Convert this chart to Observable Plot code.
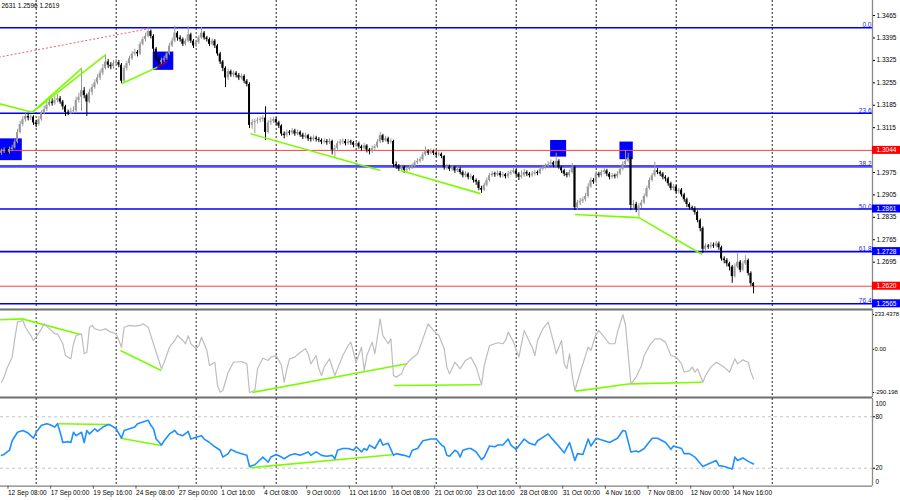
<!DOCTYPE html>
<html>
<head>
<meta charset="utf-8">
<script src="https://cdn.jsdelivr.net/npm/d3@7"></script>
<script src="https://cdn.jsdelivr.net/npm/@observablehq/plot@0.6"></script>
<style>
html,body{margin:0;padding:0;background:#fff;}
#chart{position:relative;width:900px;height:500px;overflow:hidden;background:#fff;}
</style>
</head>
<body>
<div id="chart"></div>
<script>
// ---------- price bars (H4), index 0 = first visible bar ----------
const firstOpen = 1.3035;
const closes = [
1.3040,1.3045,1.3038,1.3047,1.3052,1.3070,1.3100,1.3125,1.3140,1.3150,
1.3145,1.3148,1.3130,1.3125,1.3140,1.3160,1.3172,1.3185,1.3195,1.3190,
1.3200,1.3205,1.3195,1.3180,1.3162,1.3160,1.3165,1.3168,1.3200,1.3210,
1.3230,1.3215,1.3195,1.3225,1.3240,1.3255,1.3270,1.3285,1.3300,1.3320,
1.3310,1.3305,1.3315,1.3318,1.3310,1.3260,1.3300,1.3315,1.3330,1.3345,
1.3350,1.3345,1.3375,1.3390,1.3400,1.3415,1.3400,1.3360,1.3330,1.3318,
1.3325,1.3330,1.3345,1.3370,1.3385,1.3410,1.3395,1.3390,1.3375,1.3385,
1.3405,1.3385,1.3370,1.3380,1.3395,1.3410,1.3395,1.3390,1.3375,1.3385,
1.3370,1.3345,1.3320,1.3300,1.3270,1.3290,1.3280,1.3285,1.3278,1.3270,
1.3275,1.3260,1.3250,1.3122,1.3130,1.3135,1.3138,1.3140,1.3145,1.3100,
1.3130,1.3135,1.3140,1.3130,1.3120,1.3095,1.3090,1.3100,1.3098,1.3105,
1.3095,1.3100,1.3092,1.3085,1.3090,1.3080,1.3078,1.3082,1.3078,1.3075,
1.3070,1.3072,1.3068,1.3072,1.3045,1.3050,1.3065,1.3070,1.3072,1.3065,
1.3070,1.3068,1.3060,1.3065,1.3055,1.3050,1.3058,1.3045,1.3040,1.3050,
1.3055,1.3070,1.3090,1.3075,1.3080,1.3070,1.3072,1.3000,1.2995,1.2985,
1.2990,1.2982,1.2985,1.2990,1.2995,1.3005,1.3010,1.3015,1.3030,1.3040,
1.3035,1.3040,1.3035,1.3030,1.3032,1.3025,1.2990,1.2992,1.2985,1.2990,
1.2980,1.2985,1.2975,1.2965,1.2970,1.2960,1.2962,1.2950,1.2945,1.2925,
1.2920,1.2935,1.2950,1.2965,1.2970,1.2968,1.2972,1.2965,1.2968,1.2962,
1.2970,1.2975,1.2980,1.2970,1.2960,1.2965,1.2975,1.2970,1.2965,1.2970,
1.2975,1.2972,1.2985,1.2990,1.2995,1.3000,1.3005,1.2998,1.3010,1.2990,
1.2980,1.2970,1.2965,1.2975,1.2990,1.2865,1.2880,1.2885,1.2890,1.2900,
1.2930,1.2950,1.2945,1.2970,1.2965,1.2975,1.2980,1.2970,1.2960,1.2965,
1.2962,1.2970,1.2985,1.3000,1.3010,1.3020,1.2872,1.2875,1.2860,1.2870,
1.2880,1.2900,1.2925,1.2950,1.2965,1.2980,1.2975,1.2970,1.2960,1.2955,
1.2940,1.2925,1.2930,1.2915,1.2920,1.2905,1.2890,1.2875,1.2865,1.2862,
1.2850,1.2825,1.2800,1.2735,1.2745,1.2742,1.2748,1.2745,1.2752,1.2740,
1.2705,1.2700,1.2690,1.2680,1.2650,1.2680,1.2695,1.2670,1.2690,1.2700,
1.2660,1.2628,1.2619];
const highs = [
1.3048,1.3052,1.3050,1.3055,1.3060,1.3078,1.3110,1.3135,1.3150,1.3158,
1.3158,1.3155,1.3152,1.3138,1.3150,1.3168,1.3182,1.3195,1.3210,1.3205,
1.3212,1.3218,1.3212,1.3200,1.3185,1.3170,1.3175,1.3180,1.3210,1.3222,
1.3300,1.3240,1.3220,1.3235,1.3250,1.3265,1.3280,1.3295,1.3312,1.3342,
1.3328,1.3318,1.3325,1.3328,1.3325,1.3315,1.3308,1.3322,1.3338,1.3352,
1.3360,1.3356,1.3382,1.3398,1.3410,1.3426,1.3420,1.3405,1.3365,1.3335,
1.3332,1.3338,1.3352,1.3378,1.3395,1.3432,1.3415,1.3402,1.3395,1.3392,
1.3430,1.3410,1.3390,1.3388,1.3402,1.3428,1.3415,1.3400,1.3395,1.3392,
1.3390,1.3375,1.3350,1.3325,1.3305,1.3298,1.3295,1.3292,1.3290,1.3284,
1.3282,1.3280,1.3265,1.3255,1.3140,1.3142,1.3146,1.3148,1.3152,1.3180,
1.3138,1.3145,1.3148,1.3146,1.3135,1.3124,1.3102,1.3108,1.3106,1.3112,
1.3110,1.3108,1.3105,1.3098,1.3098,1.3094,1.3086,1.3090,1.3088,1.3084,
1.3080,1.3080,1.3078,1.3080,1.3076,1.3060,1.3072,1.3078,1.3080,1.3078,
1.3078,1.3076,1.3072,1.3072,1.3070,1.3060,1.3066,1.3062,1.3050,1.3058,
1.3062,1.3078,1.3100,1.3094,1.3088,1.3085,1.3080,1.3076,1.3008,1.3000,
1.2998,1.2995,1.2992,1.2998,1.3002,1.3012,1.3018,1.3022,1.3038,1.3055,
1.3046,1.3048,1.3045,1.3040,1.3040,1.3036,1.3028,1.3000,1.2998,1.2996,
1.2994,1.2992,1.2990,1.2980,1.2978,1.2974,1.2970,1.2966,1.2955,1.2950,
1.2932,1.2942,1.2958,1.2972,1.2978,1.2976,1.2980,1.2978,1.2975,1.2972,
1.2978,1.2982,1.2990,1.2985,1.2975,1.2980,1.2985,1.2980,1.2975,1.2978,
1.2982,1.2980,1.2992,1.2998,1.3002,1.3008,1.3014,1.3010,1.3035,1.3015,
1.2995,1.2985,1.2975,1.2982,1.3003,1.2995,1.2888,1.2894,1.2898,1.2910,
1.2940,1.2958,1.2956,1.2978,1.2976,1.2982,1.2988,1.2985,1.2975,1.2972,
1.2970,1.2978,1.2992,1.3008,1.3044,1.3035,1.3025,1.2888,1.2882,1.2878,
1.2888,1.2908,1.2932,1.2958,1.2972,1.3007,1.2988,1.2980,1.2975,1.2965,
1.2960,1.2945,1.2938,1.2935,1.2926,1.2925,1.2910,1.2895,1.2880,1.2870,
1.2868,1.2855,1.2830,1.2805,1.2752,1.2750,1.2756,1.2755,1.2760,1.2758,
1.2745,1.2712,1.2706,1.2695,1.2685,1.2690,1.2722,1.2700,1.2698,1.2715,
1.2705,1.2665,1.2631];
const lows = [
1.3028,1.3034,1.3030,1.3032,1.3040,1.3048,1.3065,1.3095,1.3118,1.3132,
1.3136,1.3138,1.3122,1.3115,1.3120,1.3135,1.3155,1.3165,1.3180,1.3182,
1.3185,1.3192,1.3188,1.3170,1.3150,1.3152,1.3155,1.3158,1.3160,1.3192,
1.3165,1.3205,1.3150,1.3190,1.3215,1.3235,1.3248,1.3262,1.3278,1.3295,
1.3300,1.3296,1.3298,1.3308,1.3302,1.3252,1.3255,1.3292,1.3308,1.3325,
1.3338,1.3336,1.3340,1.3370,1.3382,1.3395,1.3392,1.3350,1.3322,1.3310,
1.3312,1.3318,1.3325,1.3340,1.3365,1.3380,1.3385,1.3382,1.3368,1.3370,
1.3380,1.3378,1.3362,1.3365,1.3375,1.3390,1.3388,1.3382,1.3368,1.3370,
1.3362,1.3338,1.3312,1.3290,1.3240,1.3262,1.3272,1.3272,1.3270,1.3262,
1.3264,1.3252,1.3242,1.3112,1.3110,1.3097,1.3126,1.3130,1.3132,1.3075,
1.3095,1.3122,1.3128,1.3122,1.3112,1.3088,1.3080,1.3085,1.3090,1.3092,
1.3088,1.3090,1.3085,1.3078,1.3080,1.3072,1.3070,1.3072,1.3070,1.3068,
1.3062,1.3064,1.3060,1.3062,1.3030,1.3022,1.3045,1.3058,1.3062,1.3058,
1.3060,1.3060,1.3052,1.3054,1.3048,1.3042,1.3045,1.3036,1.3030,1.3034,
1.3044,1.3050,1.3065,1.3068,1.3070,1.3062,1.3064,1.2990,1.2985,1.2978,
1.2978,1.2972,1.2975,1.2980,1.2984,1.2990,1.3000,1.3004,1.3010,1.3025,
1.3028,1.3030,1.3028,1.3022,1.3024,1.3018,1.2982,1.2982,1.2978,1.2978,
1.2972,1.2974,1.2968,1.2958,1.2958,1.2952,1.2952,1.2942,1.2935,1.2918,
1.2910,1.2915,1.2930,1.2945,1.2960,1.2960,1.2962,1.2958,1.2958,1.2955,
1.2956,1.2965,1.2970,1.2962,1.2950,1.2955,1.2960,1.2962,1.2958,1.2960,
1.2964,1.2965,1.2968,1.2980,1.2985,1.2990,1.2995,1.2990,1.2992,1.2985,
1.2972,1.2962,1.2958,1.2960,1.2970,1.2856,1.2858,1.2872,1.2878,1.2884,
1.2895,1.2925,1.2938,1.2940,1.2958,1.2960,1.2968,1.2962,1.2952,1.2955,
1.2955,1.2956,1.2965,1.2980,1.2995,1.3005,1.2856,1.2862,1.2850,1.2835,
1.2862,1.2875,1.2895,1.2920,1.2945,1.2960,1.2968,1.2962,1.2952,1.2946,
1.2932,1.2918,1.2918,1.2908,1.2908,1.2898,1.2882,1.2866,1.2858,1.2855,
1.2842,1.2818,1.2790,1.2722,1.2728,1.2735,1.2736,1.2738,1.2740,1.2732,
1.2698,1.2690,1.2680,1.2668,1.2629,1.2645,1.2675,1.2662,1.2665,1.2685,
1.2652,1.2620,1.2596];

// ---------- time axis ----------
const timeTickIdx = [3,19,35,51,67,83,99,115,131,147,163,179,195,211,227,243,259,275];
const timeTickLabels = ["12 Sep 08:00","17 Sep 00:00","19 Sep 16:00","24 Sep 08:00","27 Sep 00:00","1 Oct 16:00","4 Oct 08:00","9 Oct 00:00","11 Oct 16:00","16 Oct 08:00","21 Oct 00:00","23 Oct 16:00","28 Oct 08:00","31 Oct 00:00","4 Nov 16:00","7 Nov 08:00","12 Nov 00:00","14 Nov 16:00"];
const weekGridIdx = [13,43,73,103,133,163,193,223,253,289];

// ---------- price levels ----------
const priceTicks = [1.3465,1.3395,1.3325,1.3255,1.3185,1.3115,1.2975,1.2905,1.2835,1.2765,1.2695];
const fibLabels = ["0.0","23.6","38.2","50.0","61.8","76.4"];
const fibPrices = [1.3427,1.3160,1.2994,1.2861,1.2728,1.2565];
const redLinePrices = [1.3044,1.2620];
const tagPrices = [1.3044,1.2861,1.2728,1.2620,1.2565];

// ---------- marked zones (bar index range, price range) ----------
const zoneStart = [-1,56.9,205.9,231.9];
const zoneEnd = [7.8,64.6,211.9,236.9];
const zoneTop = [1.3080,1.3351,1.3075,1.3070];
const zoneBottom = [1.3012,1.3294,1.3023,1.3015];

// ---------- divergence lines [i1, v1, i2, v2] ----------
const priceDivergences = [[-1,1.3190,11.5,1.3163],[11.5,1.3163,30,1.3299],[11.5,1.3163,39,1.3342],[45,1.3252,58.5,1.3304],[93.4,1.3096,142.1,1.2981],[149.6,1.2981,179.6,1.2909],[215,1.2844,239,1.2834],[239,1.2834,262.7,1.2719]];
const priceDivergenceRed = [[58.5,1.3304,62.3,1.3322]];
const dottedTrend = [[-1,1.3335,55.2,1.3424]];

// ---------- CCI ----------
const cciIdx = [0,1,2,4,5,6,8,9,11,12,13,15,16,18,20,21,23,24,25,26,27,28,30,31,32,33,34,35,37,39,41,43,45,46,48,50,52,53,55,56,58,60,61,63,65,66,68,69,70,71,73,74,75,76,77,78,80,81,82,83,85,87,90,92,93,95,96,98,100,101,103,105,106,107,108,110,112,114,115,116,118,119,120,121,123,125,126,128,130,131,132,133,135,136,137,139,140,142,143,145,146,147,148,150,151,153,156,158,160,162,164,166,167,168,170,172,174,176,178,180,181,183,186,188,189,190,192,194,196,198,199,200,201,203,205,206,207,208,210,211,212,213,214,215,217,220,221,223,224,226,228,230,231,233,234,236,238,240,241,243,245,247,249,251,253,255,256,258,259,260,261,263,264,266,268,270,271,273,275,276,278,280,281,282];
const cciVal = [-221,-187,-129,-53,72,182,193,148,92,59,81,137,171,137,104,104,37,-42,-53,-64,37,92,104,-30,-20,148,160,137,126,137,115,104,14,148,160,155,160,171,148,92,-20,-131,-87,14,59,92,59,37,92,37,3,25,81,37,-8,-109,-87,-243,-288,-277,-154,-87,-82,-98,-290.198,-277,-131,-60,-75,-53,-42,-109,-221,-131,-64,-53,-20,3,-30,-98,-42,-131,-176,-120,-64,-176,-131,-42,25,48,-20,-87,14,-143,-42,48,-30,205,92,37,70,-176,-187,-165,-120,-75,-30,70,171,126,92,3,-120,-165,-87,-131,-75,-53,-120,-239,-109,25,44,37,59,115,48,-53,126,48,14,-42,59,137,182,115,48,-30,59,-98,-131,-30,-176,-277,-154,14,-8,104,126,81,37,37,115,233.4378,160,-232,-187,-109,-42,25,70,70,48,-42,-53,-98,-154,-143,-120,-154,-131,-221,-176,-120,-87,-109,-120,-154,-64,-98,-71,-87,-154,-198];
const cciDivergences = [[-1,198,7.8,204],[7.8,204,29.6,99],[44.6,-8,59.9,-142],[94,-290,152.1,-97],[147.1,-243,179.6,-238],[215.2,-281,235.9,-232],[235.9,-232,262.7,-221]];
const cciTicks = [233.4378,0,-290.198];
const cciTickLabels = ["233.4378","0.00","-290.198"];

// ---------- oscillator 0..100 ----------
const stIdx = [0,1,3,4,6,8,10,12,13,15,17,18,20,21,22,23,25,26,27,28,30,31,32,33,35,36,38,40,41,43,45,46,48,50,51,53,55,56,57,58,60,61,63,65,66,68,70,71,73,75,76,78,80,82,83,85,86,88,90,92,93,95,96,98,100,101,103,105,106,108,110,112,115,116,118,120,122,124,125,126,128,130,132,133,135,136,137,138,140,142,143,145,147,148,151,153,154,156,158,161,163,165,166,167,168,170,171,172,173,175,176,178,180,181,183,185,186,188,190,191,193,196,198,200,201,203,205,206,208,211,213,215,216,218,220,221,223,226,228,231,233,234,236,238,239,241,242,244,246,249,251,252,255,256,258,260,263,265,268,269,271,274,275,276,278,280,282];
const stVal = [35,36,41,52,62,64,61,55,62,70,72,71,68,72,62,50,51,50,62,58,62,50,64,60,66,63,68,71,70,66,55,64,66,68,72,74,76,70,66,54,47,52,60,64,60,58,63,54,56,58,54,50,45,41,33,37,42,39,37,35,22,24,27,33,27,33,36,33,31,35,37,35,39,35,39,35,34,35,31,41,43,43,41,45,39,43,41,47,43,54,47,49,35,37,35,33,41,43,52,54,54,47,45,35,34,41,39,33,41,43,43,39,30,33,46,45,47,47,54,47,42,54,49,47,52,56,60,56,49,38,50,29,37,36,54,46,55,52,50,55,64,63,39,40,39,43,47,55,55,50,42,46,43,37,37,33,22,25,29,23,22,19,33,29,32,28,25];
const stDivergences = [[20.9,71.8,40.9,71],[44.6,55,59.9,46.5],[93.1,20.5,146.5,35.7]];
const stLevels = [80,20];

// ================= drawing =================
const root = document.getElementById("chart");
const FONT = "'Liberation Sans', Arial, sans-serif";
const X_MIN = -0.375, X_MAX = 326.6, TAG_W = 10.5;
const base = {
  width: 900, marginLeft: 0, marginRight: 28,
  style: {fontFamily: FONT, background: "transparent", overflow: "visible", color: "#000", fontSize: "6.5px"}
};
const xOpt = {domain: [X_MIN, X_MAX], axis: null};
const seg = a => ({x1: a[0], y1: a[1], x2: a[2], y2: a[3]});
const linkOpts = {x1: "x1", y1: "y1", x2: "x2", y2: "y2"};
const GREEN = "#7cfc00";
const gridMark = () => Plot.ruleX(weekGridIdx, {x: d => d, stroke: "#222", strokeDasharray: "2,2", strokeWidth: 1});
const axisLine = () => Plot.ruleX([X_MAX], {x: d => d, stroke: "#8a8a8a", strokeWidth: 1.3});
function place(el, top) {
  el.style.position = "absolute";
  el.style.left = "0px";
  el.style.top = top + "px";
  root.appendChild(el);
}

const bars = closes.map((c, i) => ({i, o: i ? closes[i - 1] : firstOpen, c, h: highs[i], l: lows[i]}));
const ups = bars.filter(d => d.c >= d.o);
const downs = bars.filter(d => d.c < d.o);
const bodyLo = d => Math.min(d.o, d.c);
const bodyHi = d => Math.max(Math.max(d.o, d.c), Math.min(d.o, d.c) + 0.0003);
const zones = zoneStart.map((s, k) => ({s, e: zoneEnd[k], t: zoneTop[k], b: zoneBottom[k]}));
const fibs = fibPrices.map((p, k) => ({p, name: fibLabels[k]}));
const tags = tagPrices.map(p => ({p, red: redLinePrices.includes(p)}));
const last = bars[bars.length - 1];
// the terminal header shows the last bar's values with its left part cut off by the window edge
const header = [[last.h.toFixed(4).slice(2), last.l.toFixed(4), last.c.toFixed(4)].join(" ")];

const P_MIN = 1.25504, P_MAX = 1.3512, TAG_H = 0.00125;
const mainPlot = Plot.plot({
  ...base, height: 309, marginTop: 0, marginBottom: 1,
  x: xOpt,
  y: {domain: [P_MIN, P_MAX]},
  marks: [
    Plot.rect(zones, {x1: "s", x2: "e", y1: "b", y2: "t", fill: "#0000ff"}),
    gridMark(),
    Plot.link(dottedTrend.map(seg), {...linkOpts, stroke: "#ff5a5a", strokeDasharray: "2,2", strokeWidth: 1}),
    Plot.ruleY(fibs.filter(d => d.name !== "38.2"), {y: "p", stroke: "#0000f0", strokeWidth: 1.6}),
    Plot.ruleY(fibs.filter(d => d.name === "38.2"), {y: "p", stroke: "#4a4aff", strokeWidth: 2.6}),
    Plot.ruleY(redLinePrices, {y: d => d, stroke: "#ff4040", strokeWidth: 1}),
    Plot.ruleX(ups, {x: "i", y1: "l", y2: "h", stroke: "#9a9a9a", strokeWidth: 1}),
    Plot.ruleX(downs, {x: "i", y1: "l", y2: "h", stroke: "#000", strokeWidth: 1}),
    Plot.rect(ups, {x1: d => d.i - 0.37, x2: d => d.i + 0.37, y1: bodyLo, y2: bodyHi, fill: "#9a9a9a"}),
    Plot.rect(downs, {x1: d => d.i - 0.37, x2: d => d.i + 0.37, y1: bodyLo, y2: bodyHi, fill: "#000"}),
    Plot.link(priceDivergences.map(seg), {...linkOpts, stroke: GREEN, strokeWidth: 1.6}),
    Plot.link(priceDivergenceRed.map(seg), {...linkOpts, stroke: "#b00000", strokeWidth: 1.6}),
    Plot.text(fibs, {y: "p", text: "name", frameAnchor: "right", textAnchor: "end", lineAnchor: "bottom", dx: -1, dy: -0.5, fill: "#1a1aff", fontSize: 6.5}),
    axisLine(),
    Plot.axisY(priceTicks, {anchor: "right", tickFormat: d => d.toFixed(4), tickSize: 2, tickPadding: 2, fontSize: 6.5, label: null}),
    Plot.rect(tags.filter(d => d.red), {x1: () => X_MAX, x2: () => X_MAX + TAG_W, y1: d => d.p - TAG_H, y2: d => d.p + TAG_H, fill: "#ff0000"}),
    Plot.rect(tags.filter(d => !d.red), {x1: () => X_MAX, x2: () => X_MAX + TAG_W, y1: d => d.p - TAG_H, y2: d => d.p + TAG_H, fill: "#0000ff"}),
    Plot.text(tags, {y: "p", text: d => d.p.toFixed(4), frameAnchor: "right", textAnchor: "start", dx: 4, fill: "#fff", fontSize: 6.5}),
    Plot.text(header, {text: d => d, frameAnchor: "top-left", textAnchor: "start", lineAnchor: "top", dx: 1, dy: 3, fontSize: 6.5})
  ]
});
place(mainPlot, 0);

const C_MIN = -323.8, C_MAX = 267.0;
const cciData = cciIdx.map((i, k) => ({i, v: cciVal[k]}));
const cciPlot = Plot.plot({
  ...base, height: 90, marginTop: 1, marginBottom: 1,
  x: xOpt,
  y: {domain: [C_MIN, C_MAX]},
  marks: [
    gridMark(),
    Plot.link(cciDivergences.map(seg), {...linkOpts, stroke: GREEN, strokeWidth: 1.6}),
    Plot.line(cciData, {x: "i", y: "v", stroke: "#bdbdbd", strokeWidth: 1.2}),
    Plot.ruleY([C_MIN, C_MAX], {y: d => d, stroke: "#6e6e6e", strokeWidth: 2}),
    axisLine(),
    Plot.axisY(cciTicks, {anchor: "right", tickFormat: d => cciTickLabels[cciTicks.indexOf(d)], tickSize: 1, tickPadding: 1, fontSize: 5.9, label: null})
  ]
});
place(cciPlot, 308);

const S_MIN = -1.0, S_MAX = 101.35;
const stData = stIdx.map((i, k) => ({i, v: stVal[k]}));
const stPlot = Plot.plot({
  ...base, height: 103, marginTop: 1, marginBottom: 14.3,
  x: {domain: [X_MIN, X_MAX]},
  y: {domain: [S_MIN, S_MAX]},
  marks: [
    gridMark(),
    Plot.ruleY(stLevels, {y: d => d, stroke: "#c4c4c4", strokeDasharray: "3,3", strokeWidth: 1}),
    Plot.link(stDivergences.map(seg), {...linkOpts, stroke: GREEN, strokeWidth: 1.6}),
    Plot.line(stData, {x: "i", y: "v", stroke: "#1e90ff", strokeWidth: 1.6}),
    Plot.ruleY([S_MIN], {y: d => d, stroke: "#808080", strokeWidth: 1.2}),
    axisLine(),
    Plot.axisY(stLevels, {anchor: "right", tickSize: 2, tickPadding: 1, fontSize: 6.3, label: null}),
    Plot.text([100], {y: d => d, text: d => String(d), frameAnchor: "right", textAnchor: "start", dx: 3, dy: 4, fontSize: 6.3}),
    Plot.text([0], {y: d => d, text: d => String(d), frameAnchor: "right", textAnchor: "start", dx: 3, dy: -3, fontSize: 6.3}),
    Plot.axisX(timeTickIdx, {anchor: "bottom", tickFormat: d => timeTickLabels[timeTickIdx.indexOf(d)], tickSize: 3, tickPadding: 1.5, textAnchor: "start", dx: -1.5, fontSize: 6.5, stroke: "#555", label: null})
  ]
});
place(stPlot, 397);
</script>
</body>
</html>
